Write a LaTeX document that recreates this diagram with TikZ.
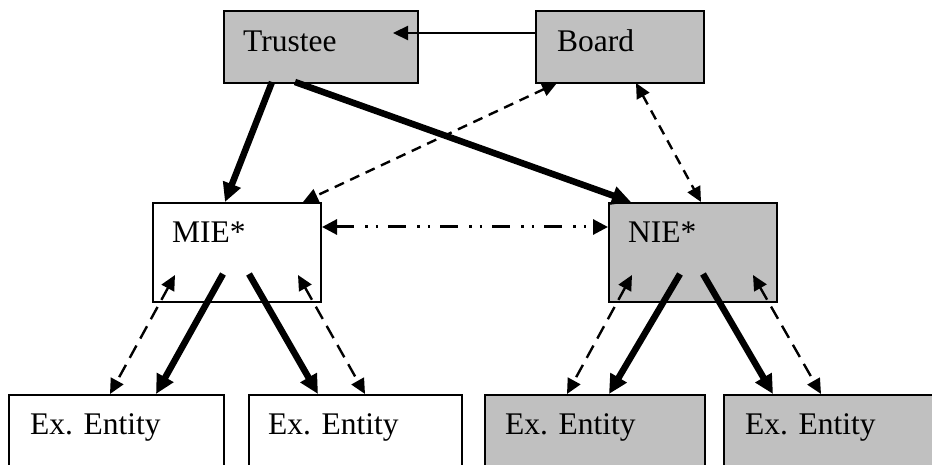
\documentclass[tikz,border=0pt]{standalone}
\usepackage{fontspec}
\setmainfont{Liberation Serif}
\usetikzlibrary{arrows.meta,calc}
\definecolor{boxgray}{RGB}{192,192,192}
\begin{document}
\begin{tikzpicture}[x=1pt,y=-1pt,
  box/.style={draw=black,line width=2pt,rectangle,inner sep=0pt,anchor=north west},
  gbox/.style={box,fill=boxgray},
  wbox/.style={box,fill=white},
  lbl/.style={anchor=base west,inner sep=0pt,font=\fontsize{31.5}{36}\selectfont},
  thick arrow/.style={line width=6.5pt,-{Triangle[length=19pt,width=18pt]}},
  thin arrow/.style={line width=2.2pt,-{Triangle[length=15pt,width=14pt]}},
  dash arrow/.style={line width=2.4pt,{Triangle[length=15pt,width=14pt]}-{Triangle[length=15pt,width=14pt]},dash pattern=on 10pt off 7pt},
  ldash arrow/.style={line width=2.4pt,{Triangle[length=15pt,width=14pt]}-{Triangle[length=15pt,width=14pt]},dash pattern=on 14pt off 8pt},
  dd arrow/.style={line width=3pt,{Triangle[length=15pt,width=15pt]}-{Triangle[length=15pt,width=15pt]},dash pattern=on 18pt off 11pt on 2.5pt off 8pt on 2.5pt off 10pt},
]
\useasboundingbox (0,0) rectangle (932,465);
\clip (0,0) rectangle (932,465);
% boxes
\node[gbox,minimum width=194pt,minimum height=72pt] (trustee) at (223,10) {};
\node[gbox,minimum width=168pt,minimum height=72pt] (board) at (535,10) {};
\node[wbox,minimum width=168pt,minimum height=99pt] (mie) at (152,202) {};
\node[gbox,minimum width=168pt,minimum height=99pt] (nie) at (608,202) {};
\node[wbox,minimum width=215pt,minimum height=90pt] (ex1) at (8,394) {};
\node[wbox,minimum width=213pt,minimum height=90pt] (ex2) at (248,394) {};
\node[gbox,minimum width=220pt,minimum height=90pt] (ex3) at (484,394) {};
\node[gbox,minimum width=230pt,minimum height=90pt] (ex4) at (723,394) {};
% labels
\node[lbl] (trusteeT) at ($(trustee.north west)+(20,42)$) {Trustee};
\node[lbl] (boardT) at ($(board.north west)+(22,42)$) {Board};
\node[lbl] (mieT) at ($(mie.north west)+(20,41)$) {MIE*};
\node[lbl] (nieT) at ($(nie.north west)+(20,41)$) {NIE*};
\node[lbl] (ex1T) at ($(ex1.north west)+(22,40)$) {Ex. Entity};
\node[lbl] (ex2T) at ($(ex2.north west)+(20,40)$) {Ex. Entity};
\node[lbl] (ex3T) at ($(ex3.north west)+(21,40)$) {Ex. Entity};
\node[lbl] (ex4T) at ($(ex4.north west)+(22,40)$) {Ex. Entity};
% connector end points
\coordinate (bt1) at (board.west |- 0,33);
\coordinate (bt2) at (393,33);
\coordinate (tm1) at (272,82);
\coordinate (tm2) at (225,202);
\coordinate (tn1) at (295,82);
\coordinate (tn2) at (631,202);
\coordinate (bm1) at (557,83);
\coordinate (bm2) at (303,202);
\coordinate (bn1) at (636,83);
\coordinate (bn2) at (701,202);
\coordinate (mn1) at (mie.east |- 0,227);
\coordinate (mn2) at (nie.west |- 0,227);
% MIE children
\coordinate (m1a) at (175,275); \coordinate (m1b) at (110,394);
\coordinate (m2a) at (223,274); \coordinate (m2b) at (156,394);
\coordinate (m3a) at (249,274); \coordinate (m3b) at (318,394);
\coordinate (m4a) at (298,275); \coordinate (m4b) at (365,394);
% NIE children
\coordinate (n1a) at (632,275); \coordinate (n1b) at (567,394);
\coordinate (n2a) at (680,274); \coordinate (n2b) at (609,394);
\coordinate (n3a) at (703,274); \coordinate (n3b) at (773,394);
\coordinate (n4a) at (753,275); \coordinate (n4b) at (821,394);
% connectors
\draw[thin arrow] (bt1) -- (bt2);
\draw[thick arrow] (tm1) -- (tm2);
\draw[thick arrow] (tn1) -- (tn2);
\draw[dash arrow] (bm1) -- (bm2);
\draw[dash arrow] (bn1) -- (bn2);
\draw[dd arrow] (mn1) -- (mn2);
\draw[ldash arrow] (m1a) -- (m1b);
\draw[thick arrow] (m2a) -- (m2b);
\draw[thick arrow] (m3a) -- (m3b);
\draw[ldash arrow] (m4a) -- (m4b);
\draw[ldash arrow] (n1a) -- (n1b);
\draw[thick arrow] (n2a) -- (n2b);
\draw[thick arrow] (n3a) -- (n3b);
\draw[ldash arrow] (n4a) -- (n4b);
\end{tikzpicture}
\end{document}
